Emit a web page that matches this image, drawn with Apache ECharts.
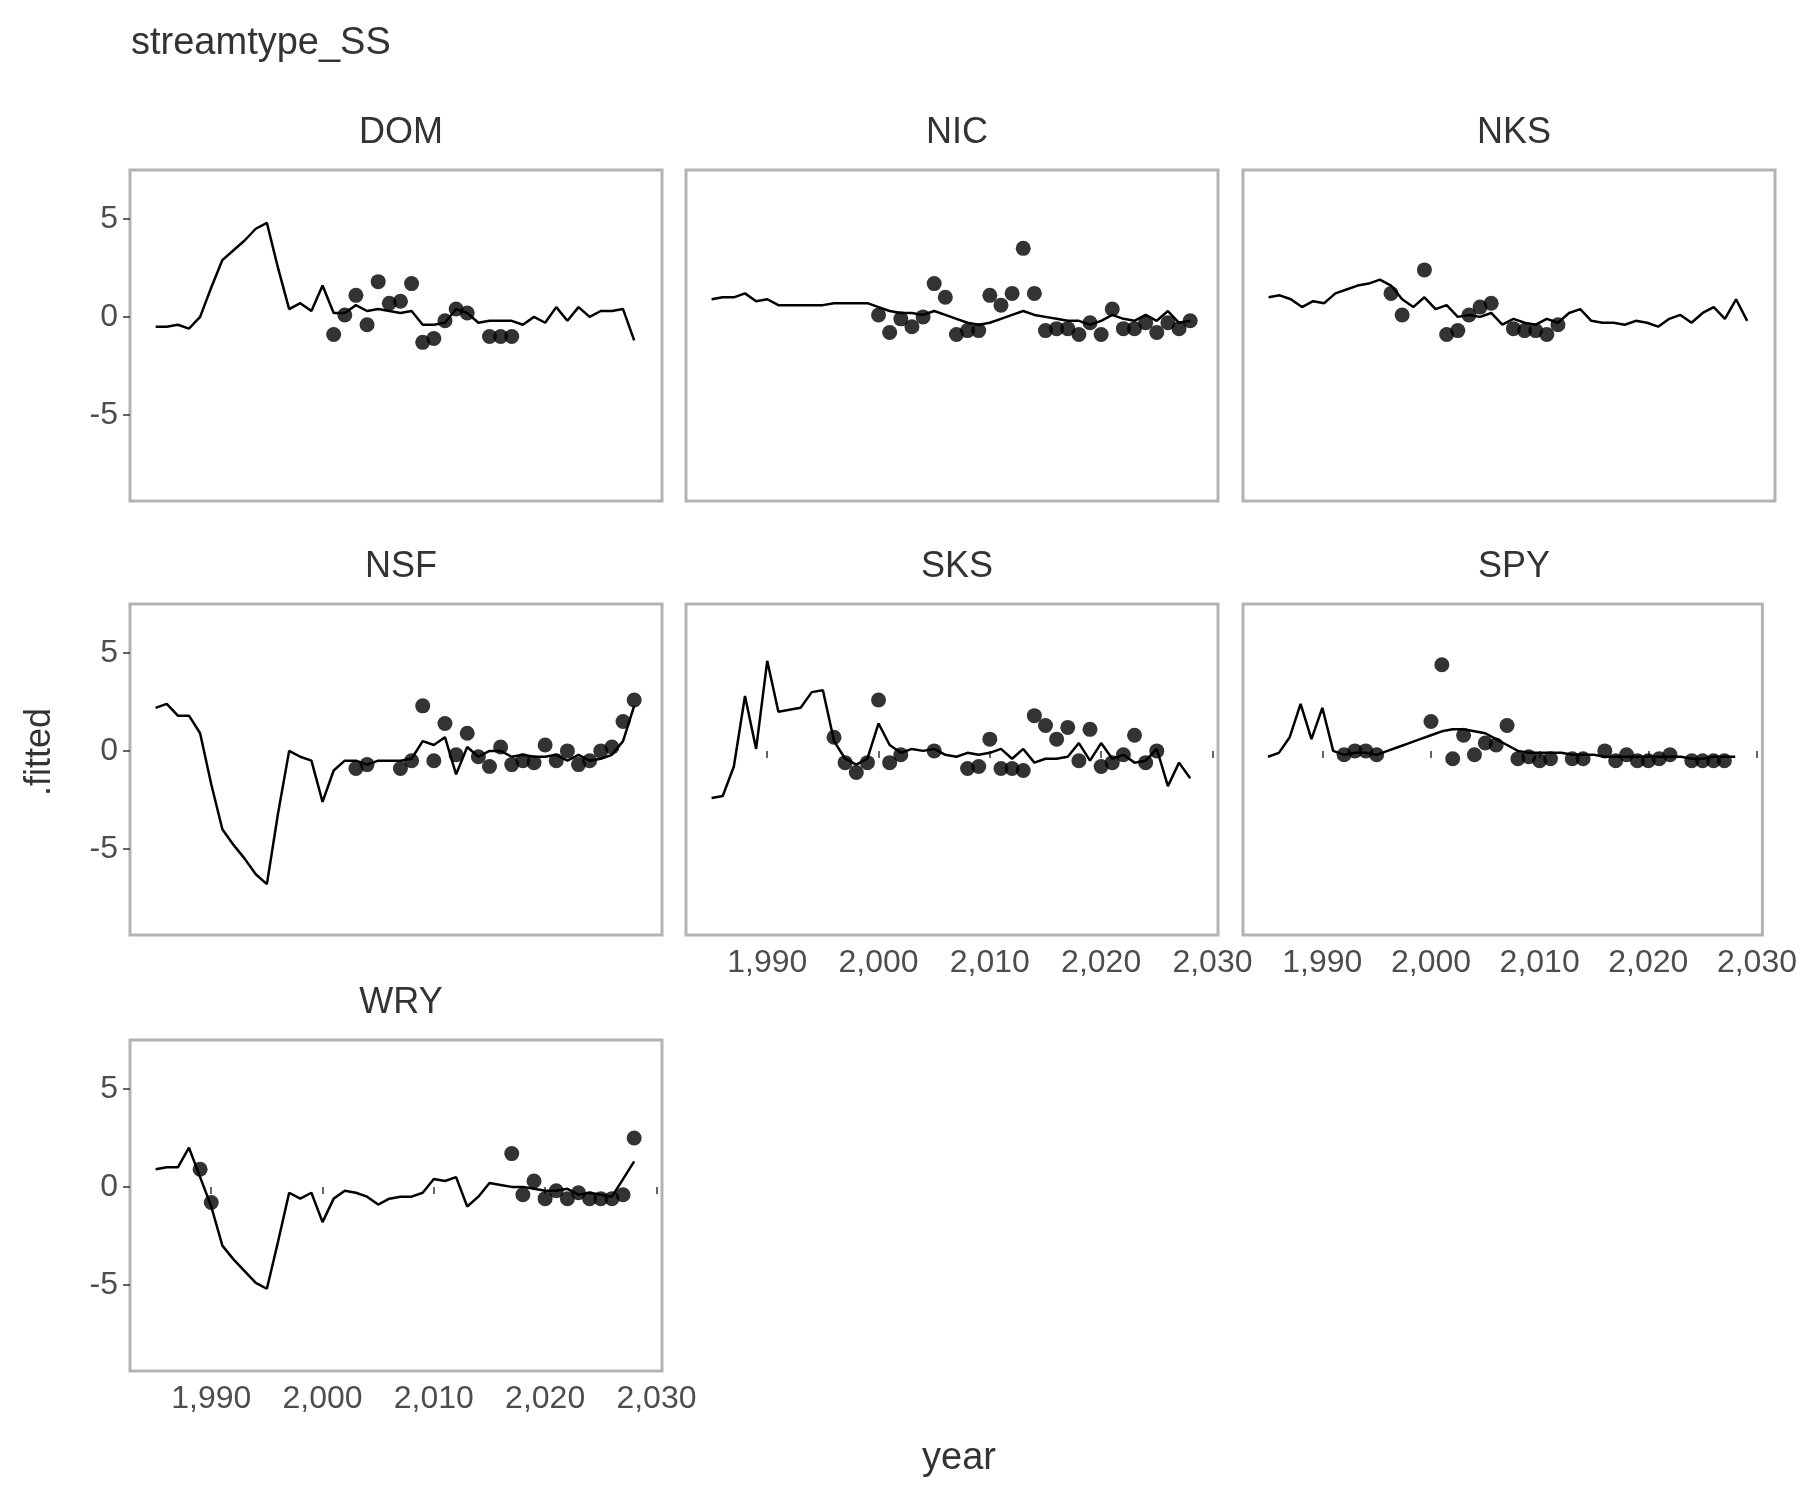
<!DOCTYPE html>
<html>
<head>
<meta charset="utf-8">
<script src="https://cdn.jsdelivr.net/npm/echarts@6.0.0/dist/echarts.min.js"></script>
<style>
  html, body { margin: 0; padding: 0; background: #fff; }
  #chart { width: 1800px; height: 1500px; }
</style>
</head>
<body>
<div id="chart"></div>
<script>
// years 1985..2028
var years = [];
for (var y = 1985; y <= 2028; y++) years.push(y);
var xTicks = [1990, 2000, 2010, 2020, 2030];
var yTicks = [-5, 0, 5];
var panelNames = ['DOM', 'NIC', 'NKS', 'NSF', 'SKS', 'SPY', 'WRY'];

// fitted line per panel
var fitDOM = [-0.5,-0.5,-0.4,-0.6,0,1.5,2.9,3.4,3.9,4.5,4.8,2.5,0.4,0.7,0.3,1.6,0.2,0.2,0.6,0.3,0.4,0.3,0.2,0.3,-0.4,-0.4,-0.3,0.4,0.2,-0.3,-0.2,-0.2,-0.2,-0.4,0,-0.3,0.5,-0.2,0.5,0,0.3,0.3,0.4,-1.2];
var fitNIC = [0.9,1.0,1.0,1.2,0.8,0.9,0.6,0.6,0.6,0.6,0.6,0.7,0.7,0.7,0.7,0.5,0.3,0.2,0.2,0.1,0.3,0.1,-0.1,-0.3,-0.4,-0.3,-0.1,0.1,0.3,0.1,0,-0.1,-0.2,-0.2,-0.4,-0.2,0.1,-0.1,-0.2,0.1,-0.2,0.3,-0.3,-0.2];
var fitNKS = [1.0,1.1,0.9,0.5,0.8,0.7,1.2,1.4,1.6,1.7,1.9,1.6,0.9,0.5,1.0,0.4,0.6,0,0.1,0,0.2,-0.4,-0.1,-0.3,-0.4,-0.1,-0.3,0.2,0.4,-0.2,-0.3,-0.3,-0.4,-0.2,-0.3,-0.5,-0.1,0.1,-0.3,0.2,0.5,-0.1,0.9,-0.2];
var fitNSF = [2.2,2.4,1.8,1.8,0.9,-1.7,-4.0,-4.8,-5.5,-6.3,-6.8,-3.2,0,-0.3,-0.5,-2.6,-1.0,-0.5,-0.5,-0.7,-0.5,-0.5,-0.5,-0.4,0.5,0.3,0.7,-1.2,0.2,-0.3,0,0,-0.3,-0.2,-0.3,-0.3,-0.2,-0.5,-0.2,-0.5,-0.4,-0.2,0.5,2.3];
var fitSKS = [-2.4,-2.3,-0.8,2.8,0.1,4.6,2.0,2.1,2.2,3.0,3.1,0.5,-0.4,-0.7,-0.4,1.4,0.3,-0.1,0.1,0,0.1,-0.2,-0.3,-0.1,-0.2,-0.1,0.1,-0.4,0.1,-0.6,-0.4,-0.4,-0.3,0.4,-0.5,0.4,-0.4,-0.2,-0.6,-0.5,0.1,-1.8,-0.6,-1.4];
var fitSPY = [-0.3,-0.1,0.7,2.4,0.6,2.2,0,-0.2,-0.1,-0.1,-0.2,0,0.2,0.4,0.6,0.8,1.0,1.1,1.1,1.0,0.9,0.6,0.3,0,-0.1,-0.1,-0.1,-0.1,-0.2,-0.2,-0.2,-0.3,-0.3,-0.3,-0.3,-0.3,-0.3,-0.3,-0.3,-0.4,-0.4,-0.3,-0.3,-0.3];
var fitWRY = [0.9,1.0,1.0,2.0,0.5,-1.0,-3.0,-3.7,-4.3,-4.9,-5.2,-2.8,-0.3,-0.6,-0.3,-1.8,-0.6,-0.2,-0.3,-0.5,-0.9,-0.6,-0.5,-0.5,-0.3,0.4,0.3,0.5,-1.0,-0.5,0.2,0.1,0,0,-0.1,-0.2,-0.2,-0.1,-0.4,-0.3,-0.4,-0.5,0.4,1.3];

// band upper / lower
var hiDOM = [2.3,2.2,2.0,1.5,2.2,3.5,5.0,5.6,5.8,6.4,6.8,4.5,2.4,2.7,2.3,3.3,2.2,2.0,2.5,2.2,2.2,2.1,2.0,2.1,1.5,1.5,1.6,2.1,1.9,1.5,1.6,1.6,1.6,1.4,1.8,1.5,2.2,1.6,2.2,1.8,2.0,2.0,1.8,0.5];
var loDOM = [-3.3,-3.1,-2.6,-2.5,-1.8,-0.2,0.9,1.3,2.0,2.6,2.9,0.6,-1.6,-1.2,-1.6,-0.2,-1.6,-1.6,-1.3,-1.6,-1.5,-1.6,-1.7,-1.6,-2.3,-2.3,-2.2,-1.5,-1.7,-2.1,-2.0,-2.0,-2.0,-2.2,-1.8,-2.1,-1.3,-2.0,-1.3,-1.8,-1.4,-1.5,-1.6,-3.0];
var hiNIC = [2.8,2.9,2.9,3.0,2.7,2.8,2.5,2.5,2.6,2.6,2.6,2.7,2.7,2.6,2.6,2.4,2.2,2.1,2.1,2.0,2.2,2.0,1.8,1.6,1.5,1.6,1.8,2.0,2.2,2.0,1.9,1.8,1.7,1.7,1.5,1.7,2.0,1.8,1.7,2.0,1.7,2.2,1.6,1.7];
var loNIC = [-1.1,-1.0,-1.0,-0.8,-1.2,-1.1,-1.4,-1.4,-1.3,-1.3,-1.3,-1.2,-1.2,-1.3,-1.3,-1.5,-1.7,-1.8,-1.8,-1.9,-1.7,-1.9,-2.1,-2.3,-2.4,-2.3,-2.1,-1.9,-1.7,-1.9,-2.0,-2.1,-2.2,-2.2,-2.4,-2.2,-1.9,-2.1,-2.2,-1.9,-2.2,-1.7,-2.3,-2.1];
var hiNKS = [2.8,2.9,2.7,2.3,2.6,2.5,3.0,3.2,3.4,3.5,3.7,3.4,2.7,2.3,2.8,2.2,2.4,1.8,1.9,1.8,2.0,1.4,1.7,1.5,1.4,1.7,1.5,2.0,2.2,1.6,1.5,1.5,1.4,1.6,1.5,1.3,1.7,1.9,1.5,2.0,2.3,1.7,2.7,1.6];
var loNKS = [-0.8,-0.7,-0.9,-1.3,-1.0,-1.1,-0.6,-0.4,-0.2,-0.1,0.1,-0.2,-0.9,-1.3,-0.8,-1.4,-1.2,-1.8,-1.7,-1.8,-1.6,-2.2,-1.9,-2.1,-2.2,-1.9,-2.1,-1.6,-1.4,-2.0,-2.1,-2.1,-2.2,-2.0,-2.1,-2.3,-1.9,-1.7,-2.1,-1.6,-1.3,-1.9,-0.9,-2.0];
var hiNSF = [5.7,5.3,4.0,3.8,2.9,0.5,-1.8,-2.6,-3.2,-4.0,-4.6,-1.0,2.2,1.9,1.7,-0.4,1.2,1.7,1.7,1.5,1.7,1.7,1.7,1.8,2.7,2.5,2.9,1.0,2.4,1.9,2.2,2.2,1.9,2.0,1.9,1.9,2.0,1.7,2.0,1.7,1.8,2.0,2.7,4.2];
var loNSF = [-1.4,-0.6,-0.4,-0.4,-1.3,-3.9,-6.2,-7.0,-7.7,-8.3,-8.6,-5.4,-2.2,-2.5,-2.7,-4.8,-3.2,-2.7,-2.7,-2.9,-2.7,-2.7,-2.7,-2.6,-1.7,-1.9,-1.5,-3.4,-2.0,-2.5,-2.2,-2.2,-2.5,-2.4,-2.5,-2.5,-2.4,-2.7,-2.4,-2.7,-2.6,-2.4,-1.7,0.4];
var hiSKS = [0.9,1.0,2.4,5.6,3.0,6.5,4.3,4.3,4.3,5.0,5.1,2.4,1.4,1.1,1.4,3.2,2.1,1.7,1.9,1.8,1.9,1.6,1.5,1.7,1.6,1.7,1.9,1.4,1.9,1.2,1.4,1.4,1.5,2.2,1.3,2.2,1.4,1.6,1.2,1.3,1.9,0.0,1.2,0.5];
var loSKS = [-5.8,-5.2,-3.8,0.3,-2.6,2.6,-0.2,0,0.1,1.0,1.2,-1.4,-2.2,-2.5,-2.2,-0.4,-1.5,-1.9,-1.7,-1.8,-1.7,-2.0,-2.1,-1.9,-2.0,-1.9,-1.7,-2.2,-1.7,-2.4,-2.2,-2.2,-2.1,-1.4,-2.3,-1.4,-2.2,-2.0,-2.4,-2.3,-1.7,-3.6,-2.4,-3.3];
var hiSPY = [1.9,2.0,2.7,4.3,2.6,4.1,2.0,1.8,1.9,1.9,1.8,2.0,2.2,2.4,2.6,2.8,3.0,3.1,3.1,3.0,2.9,2.6,2.3,2.0,1.9,1.9,1.9,1.9,1.8,1.8,1.8,1.7,1.7,1.7,1.7,1.7,1.7,1.7,1.7,1.6,1.6,1.7,1.7,1.7];
var loSPY = [-2.5,-2.2,-1.4,0.5,-1.5,0.3,-1.8,-2.0,-1.9,-1.9,-2.0,-1.8,-1.6,-1.4,-1.2,-1.0,-0.8,-0.7,-0.7,-0.8,-0.9,-1.2,-1.5,-1.8,-1.9,-1.9,-1.9,-1.9,-2.0,-2.0,-2.0,-2.1,-2.1,-2.1,-2.1,-2.1,-2.1,-2.1,-2.1,-2.2,-2.2,-2.1,-2.1,-2.1];
var hiWRY = [3.8,3.7,3.4,4.2,2.8,1.2,-1.0,-1.6,-2.2,-2.8,-3.2,-0.7,1.7,1.4,1.7,0.2,1.3,1.7,1.6,1.4,1.0,1.3,1.4,1.4,1.6,2.3,2.2,2.4,0.9,1.4,2.0,1.9,1.8,1.8,1.7,1.6,1.6,1.7,1.4,1.5,1.4,1.3,2.2,3.0];
var loWRY = [-2.1,-1.7,-1.5,-0.3,-1.8,-3.3,-5.0,-5.7,-6.3,-6.8,-7.0,-4.7,-2.3,-2.6,-2.3,-3.8,-2.5,-2.1,-2.2,-2.4,-2.8,-2.5,-2.4,-2.4,-2.2,-1.5,-1.6,-1.4,-2.9,-2.4,-1.8,-1.9,-2.0,-2.0,-2.1,-2.2,-2.2,-2.1,-2.3,-2.2,-2.3,-2.4,-1.5,-0.4];

// observed points: [year, value]
var obsDOM = [[2001,-0.9],[2002,0.1],[2003,1.1],[2004,-0.4],[2005,1.8],[2006,0.7],[2007,0.8],[2008,1.7],[2009,-1.3],[2010,-1.1],[2011,-0.2],[2012,0.4],[2013,0.2],[2015,-1.0],[2016,-1.0],[2017,-1.0]];
var obsNIC = [[2000,0.1],[2001,-0.8],[2002,-0.1],[2003,-0.5],[2004,0],[2005,1.7],[2006,1.0],[2007,-0.9],[2008,-0.7],[2009,-0.7],[2010,1.1],[2011,0.6],[2012,1.2],[2013,3.5],[2014,1.2],[2015,-0.7],[2016,-0.6],[2017,-0.6],[2018,-0.9],[2019,-0.3],[2020,-0.9],[2021,0.4],[2022,-0.6],[2023,-0.6],[2024,-0.3],[2025,-0.8],[2026,-0.3],[2027,-0.6],[2028,-0.2]];
var obsNKS = [[1996,1.2],[1997,0.1],[1999,2.4],[2001,-0.9],[2002,-0.7],[2003,0.1],[2004,0.5],[2005,0.7],[2007,-0.6],[2008,-0.7],[2009,-0.7],[2010,-0.9],[2011,-0.4]];
var obsNSF = [[2003,-0.9],[2004,-0.7],[2007,-0.9],[2008,-0.5],[2009,2.3],[2010,-0.5],[2011,1.4],[2012,-0.2],[2013,0.9],[2014,-0.3],[2015,-0.8],[2016,0.2],[2017,-0.7],[2018,-0.5],[2019,-0.6],[2020,0.3],[2021,-0.5],[2022,0],[2023,-0.7],[2024,-0.5],[2025,0],[2026,0.2],[2027,1.5],[2028,2.6]];
var obsSKS = [[1996,0.7],[1997,-0.6],[1998,-1.1],[1999,-0.6],[2000,2.6],[2001,-0.6],[2002,-0.2],[2005,0],[2008,-0.9],[2009,-0.8],[2010,0.6],[2011,-0.9],[2012,-0.9],[2013,-1.0],[2014,1.8],[2015,1.3],[2016,0.6],[2017,1.2],[2018,-0.5],[2019,1.1],[2020,-0.8],[2021,-0.6],[2022,-0.2],[2023,0.8],[2024,-0.6],[2025,0]];
var obsSPY = [[1992,-0.2],[1993,0],[1994,0],[1995,-0.2],[2000,1.5],[2001,4.4],[2002,-0.4],[2003,0.8],[2004,-0.2],[2005,0.4],[2006,0.3],[2007,1.3],[2008,-0.4],[2009,-0.3],[2010,-0.5],[2011,-0.4],[2013,-0.4],[2014,-0.4],[2016,0],[2017,-0.5],[2018,-0.2],[2019,-0.5],[2020,-0.5],[2021,-0.4],[2022,-0.2],[2024,-0.5],[2025,-0.5],[2026,-0.5],[2027,-0.5]];
var obsWRY = [[1989,0.9],[1990,-0.8],[2017,1.7],[2018,-0.4],[2019,0.3],[2020,-0.6],[2021,-0.2],[2022,-0.6],[2023,-0.3],[2024,-0.6],[2025,-0.6],[2026,-0.6],[2027,-0.4],[2028,2.5]];

var fits = [fitDOM, fitNIC, fitNKS, fitNSF, fitSKS, fitSPY, fitWRY];
var his = [hiDOM, hiNIC, hiNKS, hiNSF, hiSKS, hiSPY, hiWRY];
var los = [loDOM, loNIC, loNKS, loNSF, loSKS, loSPY, loWRY];
var obs = [obsDOM, obsNIC, obsNKS, obsNSF, obsSKS, obsSPY, obsWRY];

var colLeft = [130, 686, 1243];
var rowTop = [170, 604, 1040];
var pw = 532, ph = 331;
var textCol = '#4d4d4d';
var fontFam = 'Liberation Sans, Arial, sans-serif';
var showX = [false, false, false, false, true, true, true];

var grids = [], xAxes = [], yAxes = [], series = [], titles = [];
titles.push({ text: 'streamtype_SS', left: 126, top: 20,
  textStyle: { fontSize: 38, fontWeight: 'normal', color: '#333', fontFamily: fontFam } });

panelNames.forEach(function (name, i) {
  var c = i % 3, r = Math.floor(i / 3);
  grids.push({ left: colLeft[c], top: rowTop[r], width: pw, height: ph,
    show: true, borderColor: '#b3b3b3', borderWidth: 3, backgroundColor: 'transparent' });
  titles.push({ text: name, left: colLeft[c] + pw / 2, top: rowTop[r] - 60, textAlign: 'center',
    textStyle: { fontSize: 36, fontWeight: 'normal', color: '#333', fontFamily: fontFam } });
  xAxes.push({ type: 'value', gridIndex: i, min: 1982.7, max: 2030.5,
    axisLine: { show: false }, splitLine: { show: false },
    axisTick: { show: showX[i], length: 7, lineStyle: { color: '#333', width: 1.5 }, customValues: xTicks },
    axisLabel: { show: showX[i], fontSize: 32, color: textCol, fontFamily: fontFam, margin: 12, customValues: xTicks } });
  yAxes.push({ type: 'value', gridIndex: i, min: -9.4, max: 7.5,
    axisLine: { show: false }, splitLine: { show: false },
    axisTick: { show: c === 0, length: 7, lineStyle: { color: '#333', width: 1.5 }, customValues: yTicks },
    axisLabel: { show: c === 0, fontSize: 32, color: textCol, fontFamily: fontFam, margin: 12, customValues: yTicks } });

  var lo = los[i], hi = his[i], fit = fits[i];
  series.push({ type: 'line', xAxisIndex: i, yAxisIndex: i, stack: 'band' + i, stackStrategy: 'all',
    data: years.map(function (yr, k) { return [yr, lo[k]]; }),
    symbol: 'none', lineStyle: { opacity: 0 }, silent: true });
  series.push({ type: 'line', xAxisIndex: i, yAxisIndex: i, stack: 'band' + i, stackStrategy: 'all',
    data: years.map(function (yr, k) { return [yr, +(hi[k] - lo[k]).toFixed(2)]; }),
    symbol: 'none', lineStyle: { opacity: 0 }, areaStyle: { color: '#d9d9d9', opacity: 1 }, silent: true });
  series.push({ type: 'line', xAxisIndex: i, yAxisIndex: i,
    data: years.map(function (yr, k) { return [yr, fit[k]]; }),
    symbol: 'none', lineStyle: { color: '#000', width: 2.5 }, z: 3 });
  series.push({ type: 'scatter', xAxisIndex: i, yAxisIndex: i, data: obs[i],
    symbolSize: 15, itemStyle: { color: '#000' }, z: 4 });
});

var chart = echarts.init(document.getElementById('chart'));
chart.setOption({
  animation: false,
  backgroundColor: '#fff',
  title: titles,
  grid: grids,
  xAxis: xAxes,
  yAxis: yAxes,
  series: series,
  graphic: [
    { type: 'text', left: 952 - 30, top: 1440, style: { text: 'year', fontSize: 38, fill: '#333', fontFamily: fontFam } },
    { type: 'text', x: 40, y: 752, rotation: Math.PI / 2,
      style: { text: '.fitted', fontSize: 36, fill: '#333', fontFamily: fontFam, align: 'center', verticalAlign: 'middle' } }
  ]
});
</script>
</body>
</html>
